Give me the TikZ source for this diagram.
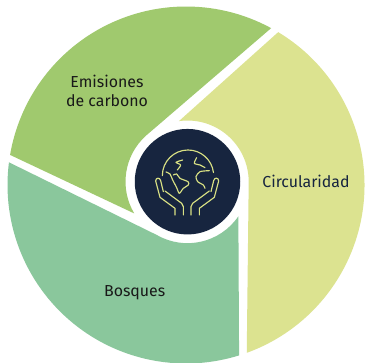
\documentclass[tikz,border=0pt]{standalone}
\usepackage{fontspec}
\setmainfont{Fira Sans}
\definecolor{cgreen}{HTML}{A0C96E}
\definecolor{cyellow}{HTML}{DCE390}
\definecolor{cmint}{HTML}{8AC79C}
\definecolor{cnavy}{HTML}{17253F}
\definecolor{cline}{HTML}{D9E184}
\tikzset{
  wedge/.style={line join=round},
  lab/.style={font=\fontsize{15.9}{19.7}\selectfont,align=center,inner sep=0pt},
  icon/.style={draw=cline,line width=1.15pt,line cap=round,line join=round,fill=none}
}
\begin{document}
\begin{tikzpicture}[x=1pt,y=1pt]
\useasboundingbox (0,0) rectangle (365,363);
\fill[white] (0,0) rectangle (365,363);
\coordinate (O) at (186,178);
\coordinate (C) at (187.5,181.3);
\fill[cyellow,wedge] ([shift={(58.9:178.5)}]O) arc[start angle=58.9,end angle=-70.1,radius=178.5]
  -- ([shift={(0:61.2)}]C) arc[start angle=0,end angle=98,radius=61.2] -- cycle;
\fill[cgreen,wedge] ([shift={(61.5:178.5)}]O) arc[start angle=61.5,end angle=170.3,radius=178.5]
  -- ([shift={(210.8:62)}]C) arc[start angle=210.8,end angle=132.2,radius=62] -- cycle;
\fill[cmint,wedge] ([shift={(172.7:178.5)}]O) arc[start angle=172.7,end angle=287.3,radius=178.5]
  -- ([shift={(325.8:61.5)}]C) arc[start angle=325.8,end angle=240.2,radius=61.5] -- cycle;
\node[circle,fill=cnavy,minimum size=105.5pt,inner sep=0pt] (hub) at (C) {};
\begin{scope}[shift={(150,218)},xscale=1/3,yscale=-1/3]
  % globe
  \draw[icon] (37,92) arc[start angle=180,end angle=353,radius=77];
  % continents
  \draw[icon] plot[smooth,tension=0.45] coordinates {(98,45) (78,52) (92,60) (82,75)};
  \draw[icon] plot[smooth,tension=0.45] coordinates {(48,81) (60,87) (68,105) (80,128) (88,145) (100,130) (115,120) (114,110) (90,100) (80,87) (70,90)};
  \draw[icon] plot[smooth,tension=0.45] coordinates {(140,38) (133,55) (150,60) (165,68)};
  \draw[icon] plot[smooth,tension=0.45] coordinates {(178,77) (150,80) (138,95) (143,110) (160,120) (165,130)};
  % left hand
  \draw[icon] (75,210) -- (75,190) -- (30,157) -- (17,108) .. controls (17,97) and (30,97) .. (32,107) -- (40,140);
  \draw[icon] (45,138) -- (95,175) -- (100,185) -- (100,210);
  % right hand
  \draw[icon] (148,210) -- (148,190) -- (193,157) -- (206,108) .. controls (206,97) and (193,97) .. (191,107) -- (183,140);
  \draw[icon] (178,138) -- (128,175) -- (123,185) -- (123,210);
\end{scope}
\node[lab,text=black!90] (e) at (107,272) {Emisiones\\de carbono};
\node[lab,text=cnavy] (c) at (306,182) {Circularidad};
\node[lab,text=black!90] (b) at (134.7,70) {Bosques};
\end{tikzpicture}
\end{document}
